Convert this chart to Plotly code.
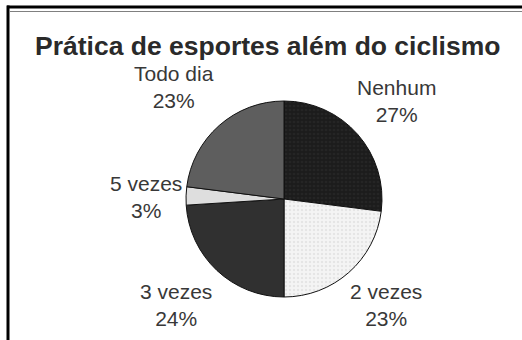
import plotly.graph_objects as go

W, H = 522, 340

# ---- data ----
categories = ["Nenhum", "2 vezes", "3 vezes", "5 vezes", "Todo dia"]
values = [27, 23, 24, 3, 23]
title_text = "Prática de esportes além do ciclismo"

# ---- styles ----
slice_colors = ["#1c1c1c", "#f4f4f4", "#303030", "#dedede", "#5e5e5e"]
pattern_shapes = [".", ".", "", "", ""]
pattern_fg = ["#2e2e2e", "#d6d6d6", "#303030", "#dedede", "#5e5e5e"]
# label centres in pixels (x, y)
label_pos = {
    "Nenhum": (396, 101),
    "2 vezes": (386, 305),
    "3 vezes": (176, 305),
    "5 vezes": (146, 197),
    "Todo dia": (174, 87),
}

def px(x):
    return x / W

def py(y):
    return 1 - y / H

cx, cy, r = 284, 199, 98

fig = go.Figure()
fig.add_trace(go.Pie(
    labels=categories,
    values=values,
    sort=False,
    direction="clockwise",
    rotation=0,
    textinfo="none",
    hoverinfo="label+percent",
    showlegend=False,
    domain=dict(x=[px(cx - r), px(cx + r)], y=[py(cy + r), py(cy - r)]),
    marker=dict(
        colors=slice_colors,
        line=dict(color="#111111", width=1),
        pattern=dict(shape=pattern_shapes, fgcolor=pattern_fg,
                     bgcolor=slice_colors, size=4, solidity=0.3,
                     fillmode="overlay"),
    ),
))

total = sum(values)
annotations = []
for cat, v in zip(categories, values):
    x, y = label_pos[cat]
    annotations.append(dict(
        x=px(x), y=py(y), xref="paper", yref="paper",
        text=f"{cat}<br>{round(100 * v / total)}%",
        showarrow=False, xanchor="center", yanchor="middle",
        font=dict(family="Liberation Sans, Arial", size=21, color="#383838"),
    ))
annotations.append(dict(
    x=px(267), y=py(46), xref="paper", yref="paper",
    text=f"<b>{title_text}</b>", showarrow=False,
    xanchor="center", yanchor="middle",
    font=dict(family="Liberation Sans, Arial", size=26.5, color="#2a2a2a"),
))

shapes = [
    dict(type="line", xref="paper", yref="paper", x0=px(7), x1=1, y0=py(7), y1=py(7),
         line=dict(color="#000000", width=3)),
    dict(type="line", xref="paper", yref="paper", x0=px(10), x1=1, y0=py(11.5), y1=py(11.5),
         line=dict(color="#808080", width=1)),
    dict(type="line", xref="paper", yref="paper", x0=px(8), x1=px(8), y0=py(5.5), y1=0,
         line=dict(color="#000000", width=3)),
]

fig.update_layout(
    width=W, height=H,
    margin=dict(l=0, r=0, t=0, b=0),
    paper_bgcolor="#ffffff",
    plot_bgcolor="#ffffff",
    annotations=annotations,
    shapes=shapes,
)

fig.write_html("out.html")
